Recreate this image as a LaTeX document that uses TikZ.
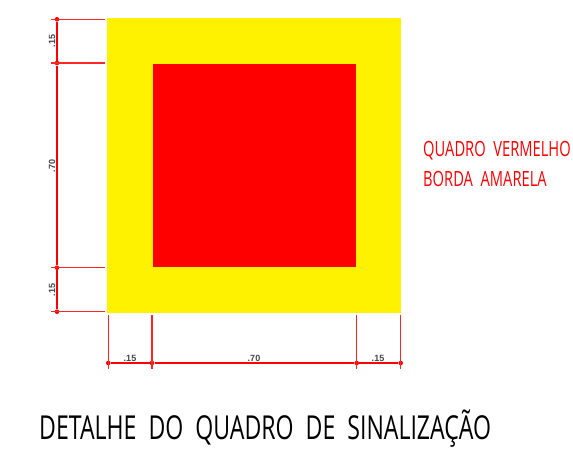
\documentclass[tikz,border=0pt]{standalone}
\usepackage{fontspec}
\setmainfont{Liberation Sans}
\newfontfamily\cadfont[FakeStretch=0.7,WordSpace=2.0]{Open Sans}
\definecolor{signyellow}{RGB}{255,242,0}
\definecolor{signred}{RGB}{255,0,0}
\definecolor{dimgray}{RGB}{70,70,70}
\tikzset{
  dimdot/.style={circle,fill=signred,inner sep=0pt,minimum size=4.6pt},
  dimline/.style={color=signred,line width=1.2pt},
  extline/.style={color=signred!85,line width=1.3pt},
  dimtext/.style={color=dimgray,font=\bfseries\fontsize{9}{9}\selectfont,inner sep=0pt},
  redtext/.style={color=signred,anchor=west,inner sep=0pt,font=\cadfont\fontsize{21}{21}\selectfont}
}

\begin{document}
\begin{tikzpicture}[x=1pt,y=-1pt]
    \useasboundingbox (0,0) rectangle (573,450);
    \fill[signyellow] (107,18) rectangle (401,313);
    \fill[signred] (153,64) rectangle (356,267);

    % left dimensions
    \node[dimdot] (lzz) at (57,19.3) {};
    \node[dimdot] (lzo) at (57,63) {};
    \node[dimdot] (loz) at (57,267.7) {};
    \node[dimdot] (loo) at (57,311.7) {};
    \coordinate (lzzend) at (105,19.3);
    \coordinate (lzoend) at (105,63);
    \coordinate (lozend) at (105,267.7);
    \coordinate (looend) at (105,311.7);
    \coordinate (lzzstart) at (50.5,19.3);
    \coordinate (lzostart) at (50.5,63);
    \coordinate (lozstart) at (50.5,267.7);
    \coordinate (loostart) at (50.5,311.7);
    \draw[extline] (lzzstart) -- (lzzend);
    \draw[extline] (lzostart) -- (lzoend);
    \draw[extline] (lozstart) -- (lozend);
    \draw[extline] (loostart) -- (looend);
    \draw[dimline] (lzz) -- (lzo) -- (loz) -- (loo);

    % bottom dimensions
    \node[dimdot] (bzz) at (108.3,363) {};
    \node[dimdot] (bzo) at (152,363) {};
    \node[dimdot] (boz) at (356.7,363) {};
    \node[dimdot] (boo) at (400.7,363) {};
    \coordinate (bzzend) at (108.3,314.5);
    \coordinate (bzoend) at (152,314.5);
    \coordinate (bozend) at (356.7,314.5);
    \coordinate (booend) at (400.7,314.5);
    \coordinate (bzzstart) at (108.3,369);
    \coordinate (bzostart) at (152,369);
    \coordinate (bozstart) at (356.7,369);
    \coordinate (boostart) at (400.7,369);
    \draw[extline] (bzzstart) -- (bzzend);
    \draw[extline] (bzostart) -- (bzoend);
    \draw[extline] (bozstart) -- (bozend);
    \draw[extline] (boostart) -- (booend);
    \draw[dimline] (bzz) -- (bzo) -- (boz) -- (boo);

    \node[dimtext,rotate=90] (ltop) at (52,41) {.15};
    \node[dimtext,rotate=90] (lmid) at (52,166) {.70};
    \node[dimtext,rotate=90] (lbot) at (52,290) {.15};
    \node[dimtext] (btl) at (130,358) {.15};
    \node[dimtext] (btm) at (254,358) {.70};
    \node[dimtext] (btr) at (378,358) {.15};

    \node[redtext] (redline) at (423,151) {QUADRO VERMELHO};
    \node[redtext] (borderline) at (423,179) {BORDA AMARELA};
    \node[color=black,anchor=west,inner sep=0pt,font=\cadfont\fontsize{33}{33}\selectfont] (title) at (39,429) {DETALHE DO QUADRO DE SINALIZAÇÃO};
  \end{tikzpicture}
\end{document}
